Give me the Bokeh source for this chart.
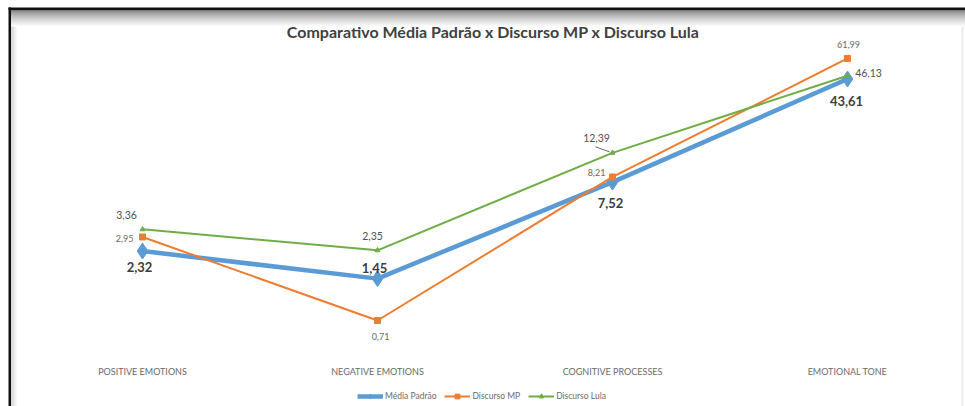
from bokeh.plotting import figure
from bokeh.models import Range1d, ColumnDataSource
from bokeh.core.properties import value
from bokeh.embed import file_html
from bokeh.resources import INLINE

# ---------------- data ----------------
categories = ["POSITIVE EMOTIONS", "NEGATIVE EMOTIONS", "COGNITIVE PROCESSES", "EMOTIONAL TONE"]
media_padrao = [2.32, 1.45, 7.52, 43.61]
discurso_mp = [2.95, 0.71, 8.21, 61.99]
discurso_lula = [3.36, 2.35, 12.39, 46.13]
series_names = ["Média Padrão", "Discurso MP", "Discurso Lula"]
title_text = "Comparativo  Média Padrão x Discurso MP x Discurso Lula"

# label offsets (pixels) per point
off_media = ([-3, -3, -2, -1], [16, -11, 21, 22])
off_mp = ([-18, 3, -16, 1], [2, 16, -4, -14])
off_lula = ([-16, -5, -16, 21], [-14, -14, -15, -3])

# ---------------- layout helpers (screen px -> data) ----------------
W, H = 965, 406
PX, X0 = 235.0, 142.0
A, K = 299.9, 135.0


def sx(px):
    return (px - X0) / PX


def sy(py):
    return 10 ** ((A - py) / K)


def fmt(v):
    return f"{v:.2f}".replace(".", ",")


xs = list(range(len(categories)))

p = figure(width=W, height=H, x_range=Range1d(sx(0), sx(W)), y_range=Range1d(sy(H), sy(0)),
           y_axis_type="log", x_axis_location=None, y_axis_location=None,
           output_backend="svg", toolbar_location=None, min_border=0,
           outline_line_color=None, background_fill_color="white", border_fill_color="white")
p.xgrid.visible = False
p.ygrid.visible = False

# ---- window frame decorations ----
grad_steps = 16
for i in range(grad_steps):
    t = i / grad_steps
    g = int(125 + (255 - 125) * t ** 0.7)
    col = "#%02x%02x%02x" % (g, g, g)
    p.quad(left=sx(10), right=sx(W), top=sy(9.5 + i), bottom=sy(10.5 + i), color=col, line_color=None)
for i in range(6):
    g = int(215 + 40 * i / 6)
    col = "#%02x%02x%02x" % (g, g, g)
    p.quad(left=sx(10.5 + i), right=sx(11.5 + i), top=sy(26), bottom=sy(H), color=col, line_color=None)
p.quad(left=sx(8), right=sx(W), top=sy(7), bottom=sy(9.5), color="#111111", line_color=None)
p.quad(left=sx(8), right=sx(10.5), top=sy(7), bottom=sy(H), color="#111111", line_color=None)
p.quad(left=sx(961), right=sx(963), top=sy(26), bottom=sy(H), color="#ececec", line_color=None)

# ---- title ----
p.text(x=[sx(494.5)], y=[sy(31)], text=[title_text], text_align="center", text_baseline="middle",
       text_font=value("Lato"), text_font_size="16px", text_font_style="bold", text_color="#404040")

# ---- category labels ----
p.text(x=xs, y=[sy(371)] * len(xs), text=categories, text_align="center", text_baseline="middle",
       text_font=value("Lato"), text_font_size="9px", text_color="#6a6a6a")

# ---- series ----
blue, orange, green = "#5B9BD5", "#ED7D31", "#70AD47"

p.line(xs, media_padrao, line_color=blue, line_width=4.5, legend_label=series_names[0])
p.scatter(xs, media_padrao, marker="diamond", size=16, color=blue, legend_label=series_names[0])

p.line(xs, discurso_mp, line_color=orange, line_width=2, legend_label=series_names[1])
p.scatter(xs, discurso_mp, marker="square", size=6, color=orange, legend_label=series_names[1])

p.line(xs, discurso_lula, line_color=green, line_width=2, legend_label=series_names[2])
p.scatter(xs, discurso_lula, marker="triangle", size=5, color=green, legend_label=series_names[2])

# ---- data labels ----
src_m = ColumnDataSource(dict(x=xs, y=media_padrao, t=[fmt(v) for v in media_padrao],
                              dx=off_media[0], dy=off_media[1]))
p.text(x="x", y="y", text="t", x_offset="dx", y_offset="dy", source=src_m, text_align="center",
       text_baseline="middle", text_font=value("Lato"), text_font_size="13px",
       text_font_style="bold", text_color="#3d3d3d")

src_o = ColumnDataSource(dict(x=xs, y=discurso_mp, t=[fmt(v) for v in discurso_mp],
                              dx=off_mp[0], dy=off_mp[1]))
p.text(x="x", y="y", text="t", x_offset="dx", y_offset="dy", source=src_o, text_align="center",
       text_baseline="middle", text_font=value("Lato"), text_font_size="9px", text_color="#6a6a6a")

src_g = ColumnDataSource(dict(x=xs, y=discurso_lula, t=[fmt(v) for v in discurso_lula],
                              dx=off_lula[0], dy=off_lula[1]))
p.text(x="x", y="y", text="t", x_offset="dx", y_offset="dy", source=src_g, text_align="center",
       text_baseline="middle", text_font=value("Lato"), text_font_size="10.5px", text_color="#505050")

# leader line for the 12,39 label
i_l = 2
p.segment(x0=[xs[i_l] - 17 / PX], y0=[discurso_lula[i_l] * 10 ** (6 / K)],
          x1=[xs[i_l] - 3 / PX], y1=[discurso_lula[i_l] * 10 ** (1 / K)],
          line_color="#404040", line_width=0.8)

# ---- legend ----
lg = p.legend[0]
lg.location = (357, 4)
lg.orientation = "horizontal"
lg.label_text_font = "Lato"
lg.label_text_font_size = "8.5px"
lg.label_text_color = "#6a6a6a"
lg.glyph_width = 26
lg.glyph_height = 12
lg.label_standoff = 2
lg.spacing = 8
lg.padding = 0
lg.margin = 0
lg.border_line_color = None
lg.background_fill_alpha = 0

open("out.html", "w").write(file_html(p, INLINE))
